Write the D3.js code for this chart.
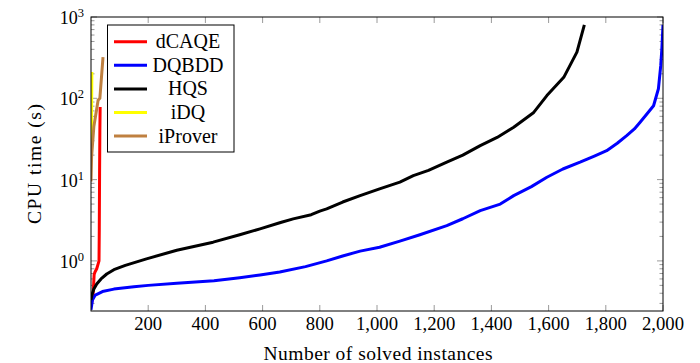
<!DOCTYPE html>
<html><head><meta charset="utf-8">
<script src="https://cdnjs.cloudflare.com/ajax/libs/d3/7.8.5/d3.min.js"></script>
<style>
body{margin:0;background:#fff;}
text{font-family:"Liberation Serif","Times New Roman",serif;fill:#000;}
</style></head><body>
<svg id="c" width="700" height="363"></svg>
<script>
const seriesNames = ["dCAQE","DQBDD","HQS","iDQ","iProver"];
const seriesColors = ["#ff0000","#0000ff","#000000","#ffff00","#bf8040"];
const dCAQE = [[1,0.28],[8,0.42],[11,0.68],[14,0.73],[20,0.8],[25,0.92],[28,1.0],[29,2.5],[30,12],[31,40],[32,78]];
const DQBDD = [[0,0.25],[5,0.33],[15,0.38],[40,0.42],[80,0.45],[150,0.48],[200,0.50],[300,0.53],[430,0.57],[520,0.62],[591,0.67],[660,0.73],[750,0.85],[824,1.0],[880,1.15],[941,1.32],[1009,1.47],[1080,1.75],[1150,2.1],[1244,2.72],[1300,3.3],[1361,4.16],[1431,5.0],[1478,6.35],[1540,8.2],[1594,10.7],[1650,13.5],[1710,16.4],[1760,19.5],[1803,22.7],[1840,28],[1873,34.7],[1900,42],[1920,50.8],[1945,65],[1967,81],[1984,131],[1992,250],[1996,405],[2000,800]];
const HQS = [[0,0.33],[3,0.38],[10,0.45],[20,0.52],[35,0.6],[55,0.69],[80,0.78],[120,0.88],[194,1.06],[300,1.35],[427,1.7],[520,2.1],[591,2.48],[660,2.95],[707,3.29],[770,3.7],[800,4.1],[824,4.36],[880,5.3],[941,6.35],[1009,7.7],[1080,9.3],[1127,11.2],[1180,13],[1244,16.4],[1300,20],[1361,26.2],[1420,33],[1478,44],[1548,67],[1594,108],[1653,181],[1699,370],[1725,800]];
const iDQ = [[1,20],[2,60],[3,210]];
const iProver = [[0,9.5],[2,19],[10,45],[25,95],[31,100],[42,320]];
const seriesData = [dCAQE, DQBDD, HQS, iDQ, iProver];
const xTicks = [200,400,600,800,1000,1200,1400,1600,1800,2000];
const yMajor = [1,10,100,1000];
const yExp = ["0","1","2","3"];

const svg = d3.select("#c");
const L=91,R=663,T=17,B=311;
const x = d3.scaleLinear().domain([0,2000]).range([L,R]);
const y = d3.scaleLog().domain([0.242,1000]).range([B,T]);

svg.append("defs").append("clipPath").attr("id","clip").append("rect")
  .attr("x",L).attr("y",T).attr("width",R-L).attr("height",B-T);

// minor y ticks
const minor=[];
[0.1,1,10,100].forEach(d=>{for(let k=2;k<=9;k++){const v=d*k; if(v>=0.242&&v<1000) minor.push(v);}});
const tickG = svg.append("g").attr("stroke","#808080").attr("stroke-width",0.8);
minor.forEach(v=>{
  tickG.append("line").attr("x1",L).attr("x2",L+3.5).attr("y1",y(v)).attr("y2",y(v));
  tickG.append("line").attr("x1",R).attr("x2",R-3.5).attr("y1",y(v)).attr("y2",y(v));
});
yMajor.forEach(v=>{
  tickG.append("line").attr("x1",L).attr("x2",L+6).attr("y1",y(v)).attr("y2",y(v));
  tickG.append("line").attr("x1",R).attr("x2",R-6).attr("y1",y(v)).attr("y2",y(v));
});
xTicks.forEach(v=>{
  tickG.append("line").attr("x1",x(v)).attr("x2",x(v)).attr("y1",B).attr("y2",B-6);
  tickG.append("line").attr("x1",x(v)).attr("x2",x(v)).attr("y1",T).attr("y2",T+6);
});

// lines
const line = d3.line().x(d=>x(d[0])).y(d=>y(d[1]));
const lg = svg.append("g").attr("clip-path","url(#clip)");
seriesData.forEach((s,i)=>{
  lg.append("path").attr("d",line(s)).attr("fill","none")
    .attr("stroke",seriesColors[i]).attr("stroke-width",3).attr("stroke-linejoin","round");
});

// frame
svg.append("rect").attr("x",L).attr("y",T).attr("width",R-L).attr("height",B-T)
  .attr("fill","none").attr("stroke","#000").attr("stroke-width",1);

// x tick labels
const fmt = d3.format(",");
xTicks.forEach(v=>{
  svg.append("text").attr("x",x(v)).attr("y",330).attr("text-anchor","middle")
    .attr("font-size",18.7).text(fmt(v));
});
// y tick labels
yMajor.forEach((v,i)=>{
  const t = svg.append("text").attr("x",84).attr("y",y(v)+7).attr("text-anchor","end").attr("font-size",18);
  t.append("tspan").text("10");
  t.append("tspan").attr("dy",-7).attr("font-size",12.5).text(yExp[i]);
});
// axis labels
svg.append("text").attr("x",(L+R)/2 + 1).attr("y",360).attr("text-anchor","middle").attr("font-size",19.5)
  .attr("textLength",229).attr("lengthAdjust","spacing")
  .text("Number of solved instances");
svg.append("text").attr("transform","translate(41,164) rotate(-90)").attr("text-anchor","middle").attr("font-size",19.5)
  .attr("textLength",120).attr("lengthAdjust","spacing")
  .text("CPU time (s)");

// legend
const lgd = svg.append("g");
lgd.append("rect").attr("x",107.5).attr("y",25).attr("width",126.5).attr("height",127)
  .attr("fill","#fff").attr("stroke","#000").attr("stroke-width",1);
seriesNames.forEach((n,i)=>{
  const yy = 41.7 + i*23.6;
  lgd.append("line").attr("x1",114).attr("x2",147).attr("y1",yy).attr("y2",yy)
    .attr("stroke",seriesColors[i]).attr("stroke-width",3);
  lgd.append("text").attr("x",188).attr("y",yy+6.5).attr("text-anchor","middle").attr("font-size",20).text(n);
});
</script></body></html>
